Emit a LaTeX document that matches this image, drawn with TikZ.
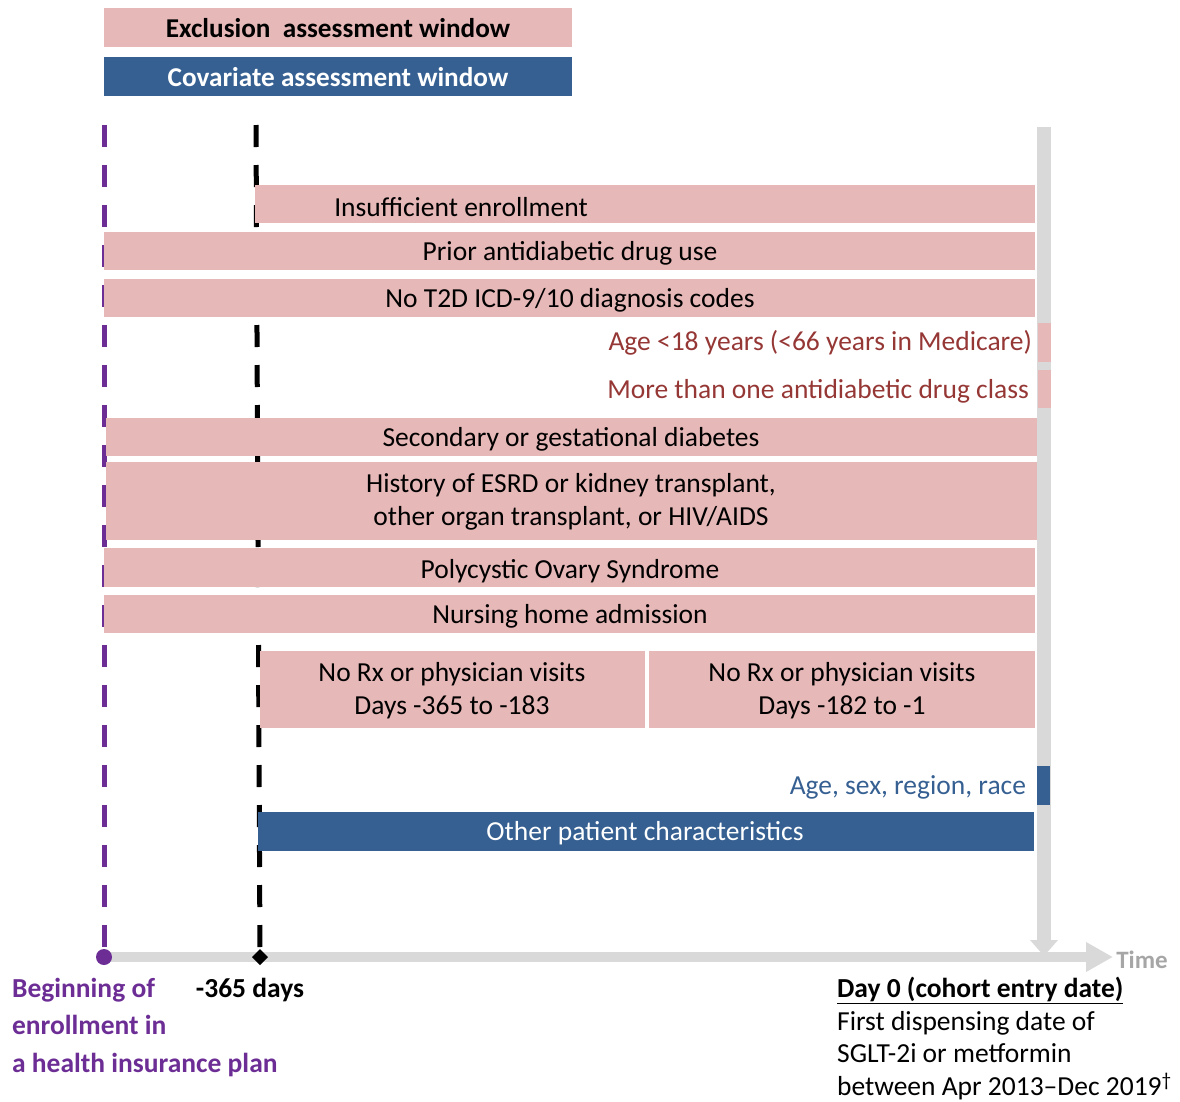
\documentclass[tikz,border=0pt]{standalone}
\usepackage{fontspec}
\setmainfont{Carlito}
\usetikzlibrary{arrows.meta}

\definecolor{exPink}{HTML}{E6B8B7}
\definecolor{covBlue}{HTML}{366092}
\definecolor{exRed}{HTML}{953735}
\definecolor{enrPurple}{HTML}{6C2D95}
\definecolor{axGray}{HTML}{D9D9D9}
\definecolor{timeGray}{HTML}{A6A6A6}

\tikzset{every picture/.style={line width=0.75pt}}
\tikzset{
  lbl/.style={inner sep=0.75pt, yshift=-2pt, font=\fontsize{27.5}{33}\selectfont},
  exbar/.style={fill=exPink, draw opacity=0},
  covbar/.style={fill=covBlue, draw opacity=0},
  dashline/.style={line width=5, dash pattern=on 22pt off 18pt}
}

\begin{document}
\begin{tikzpicture}[x=1pt,y=1pt,yscale=-1]
\useasboundingbox (0,0) rectangle (1180,1101);

%Shape: Rectangle (legend)
\draw [exbar] (104,8) -- (572,8) -- (572,47) -- (104,47) -- cycle ;
%Shape: Rectangle (legend)
\draw [covbar] (104,57) -- (572,57) -- (572,96) -- (104,96) -- cycle ;

% Text Node
\draw (338,26) node (exLegend) [lbl, font=\fontsize{27.2}{30}\selectfont\bfseries] {Exclusion\ \ assessment window};
% Text Node
\draw (338,75) node (covLegend) [lbl, text=white, font=\fontsize{27.2}{30}\selectfont\bfseries] {Covariate assessment window};

%Points on the time axis
\coordinate (enrolStart) at (104,957);
\coordinate (yearBack) at (260,957);
\coordinate (timeEnd) at (1113,957);
\coordinate (dayTop) at (1044,127);
\coordinate (dayZero) at (1044,956);
\coordinate (enrolTop) at (104,125);
\coordinate (yearTop) at (256,125);

%Straight Lines (time axis)
\draw [axGray, line width=10, -{Triangle[width=28pt,length=27pt]}] (enrolStart) -- (timeEnd) ;
%Straight Lines (day 0)
\draw [axGray, line width=14, -{Triangle[width=27pt,length=16pt]}] (dayTop) -- (dayZero) ;

%Straight Lines (enrollment)
\draw [enrPurple, dashline] (enrolTop) -- (enrolStart) ;
%Straight Lines (-365 days)
\draw [black, dashline] (yearTop) -- (yearBack) ;

%Shape: Circle
\fill [enrPurple] (enrolStart) circle (8) ;
%Shape: Diamond
\fill [black] (260,949) -- (268,957) -- (260,965) -- (252,957) -- cycle ;

%Shape: Rectangle
\draw [exbar] (255,185) -- (1035,185) -- (1035,223) -- (255,223) -- cycle ;
%Shape: Rectangle
\draw [exbar] (104,232) -- (1035,232) -- (1035,270) -- (104,270) -- cycle ;
%Shape: Rectangle
\draw [exbar] (104,279) -- (1035,279) -- (1035,317) -- (104,317) -- cycle ;
%Shape: Rectangle
\draw [exbar] (1038,323) -- (1051,323) -- (1051,362) -- (1038,362) -- cycle ;
%Shape: Rectangle
\draw [exbar] (1038,370) -- (1051,370) -- (1051,408) -- (1038,408) -- cycle ;
%Shape: Rectangle
\draw [exbar] (106,418) -- (1037,418) -- (1037,456) -- (106,456) -- cycle ;
%Shape: Rectangle
\draw [exbar] (106,462) -- (1037,462) -- (1037,540) -- (106,540) -- cycle ;
%Shape: Rectangle
\draw [exbar] (104,548) -- (1035,548) -- (1035,587) -- (104,587) -- cycle ;
%Shape: Rectangle
\draw [exbar] (104,595) -- (1035,595) -- (1035,633) -- (104,633) -- cycle ;
%Shape: Rectangle
\draw [exbar] (260,651) -- (645,651) -- (645,728) -- (260,728) -- cycle ;
%Shape: Rectangle
\draw [exbar] (649,651) -- (1035,651) -- (1035,728) -- (649,728) -- cycle ;
%Shape: Rectangle
\draw [covbar] (1037,766) -- (1050,766) -- (1050,805) -- (1037,805) -- cycle ;
%Shape: Rectangle
\draw [covbar] (258,812) -- (1034,812) -- (1034,851) -- (258,851) -- cycle ;

% Text Node
\draw (461,205) node (insuff) [lbl] {Insufficient enrollment};
% Text Node
\draw (570,251) node (priorUse) [lbl] {Prior antidiabetic drug use};
% Text Node
\draw (570,298) node (noCodes) [lbl] {No T2D ICD-9/10 diagnosis codes};
% Text Node
\draw (1033,341) node (ageLimit) [lbl, anchor=east, text=exRed] {Age <18 years (<66 years in Medicare)};
% Text Node
\draw (1030,389) node (drugClass) [lbl, anchor=east, text=exRed] {More than one antidiabetic drug class};
% Text Node
\draw (571,437) node (secDiab) [lbl] {Secondary or gestational diabetes};
% Text Node
\draw (571,500) node (esrd) [lbl, align=center] {History of ESRD or kidney transplant,\\[0pt]other organ transplant, or HIV/AIDS};
% Text Node
\draw (570,569) node (pcos) [lbl] {Polycystic Ovary Syndrome};
% Text Node
\draw (570,614) node (nursing) [lbl] {Nursing home admission};
% Text Node
\draw (452,689) node (visitsEarly) [lbl, align=center] {No Rx or physician visits\\[0pt]Days -365 to -183};
% Text Node
\draw (842,689) node (visitsLate) [lbl, align=center] {No Rx or physician visits\\[0pt]Days -182 to -1};
% Text Node
\draw (1027,785) node (demog) [lbl, anchor=east, text=covBlue] {Age, sex, region, race};
% Text Node
\draw (645,831) node (otherChar) [lbl, text=white] {Other patient characteristics};

% Text Node
\draw (1142,958) node (timeLbl) [lbl, text=timeGray, font=\fontsize{25}{30}\selectfont\bfseries] {Time};
% Text Node
\draw (11,975) node (enrolLbl) [lbl, anchor=north west, align=left, text=enrPurple, font=\fontsize{27.5}{37.5}\selectfont\bfseries] {Beginning of\\enrollment in\\a health insurance plan};
% Text Node
\draw (250,988) node (yearLbl) [lbl, font=\fontsize{27.5}{33}\selectfont\bfseries] {-365 days};
% Text Node
\draw (836,974) node (dayLbl) [lbl, anchor=north west, align=left, font=\fontsize{27.5}{32.6}\selectfont] {\textbf{\underline{Day 0 (cohort entry date)}}\\First dispensing date of\\SGLT-2i or metformin\\between Apr 2013--Dec 2019\textsuperscript{\textdagger}};

\end{tikzpicture}
\end{document}
